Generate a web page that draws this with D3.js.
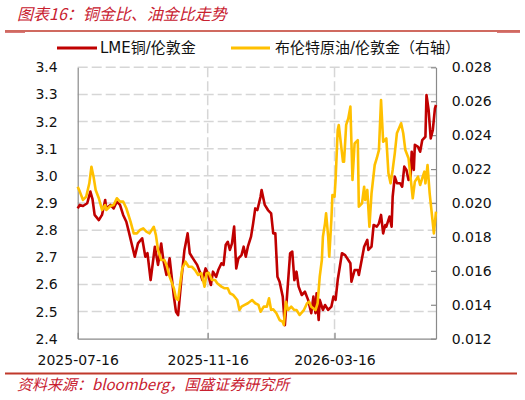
<!DOCTYPE html>
<html><head><meta charset="utf-8">
<script src="https://cdn.jsdelivr.net/npm/d3@7"></script>
<style>
html,body{margin:0;padding:0;background:#fff;}
svg{display:block;}
</style></head>
<body>
<svg id="chart" width="525" height="400"></svg>
<script>
const titleText = "图表16：铜金比、油金比走势";
const sourceText = "资料来源：bloomberg，国盛证券研究所";
const seriesNames = ["LME铜/伦敦金", "布伦特原油/伦敦金（右轴）"];
const dateTicks = ["2025-07-16", "2025-11-16", "2026-03-16"];
const leftTicks = [2.4, 2.5, 2.6, 2.7, 2.8, 2.9, 3.0, 3.1, 3.2, 3.3, 3.4];
const rightTicks = [0.012, 0.014, 0.016, 0.018, 0.020, 0.022, 0.024, 0.026, 0.028];
const xDomain = ["2025-07-16", "2026-06-20"];

const copperDates = ["2025-07-16","2025-07-18","2025-07-21","2025-07-25","2025-07-28","2025-07-30","2025-08-01","2025-08-05","2025-08-08","2025-08-11","2025-08-12","2025-08-16","2025-08-19","2025-08-22","2025-08-25","2025-08-28","2025-08-31","2025-09-02","2025-09-05","2025-09-08","2025-09-11","2025-09-15","2025-09-18","2025-09-20","2025-09-23","2025-09-26","2025-09-27","2025-09-30","2025-10-03","2025-10-05","2025-10-08","2025-10-11","2025-10-15","2025-10-17","2025-10-19","2025-10-22","2025-10-25","2025-10-28","2025-10-30","2025-11-02","2025-11-06","2025-11-09","2025-11-11","2025-11-14","2025-11-16","2025-11-19","2025-11-21","2025-11-24","2025-11-26","2025-11-29","2025-12-01","2025-12-03","2025-12-05","2025-12-07","2025-12-09","2025-12-11","2025-12-13","2025-12-15","2025-12-18","2025-12-20","2025-12-22","2025-12-24","2025-12-27","2025-12-29","2025-12-31","2026-01-02","2026-01-05","2026-01-06","2026-01-09","2026-01-12","2026-01-15","2026-01-17","2026-01-19","2026-01-21","2026-01-23","2026-01-26","2026-01-28","2026-01-30","2026-02-02","2026-02-04","2026-02-06","2026-02-08","2026-02-10","2026-02-13","2026-02-16","2026-02-19","2026-02-22","2026-02-24","2026-02-26","2026-02-27","2026-03-01","2026-03-02","2026-03-05","2026-03-07","2026-03-10","2026-03-13","2026-03-15","2026-03-17","2026-03-19","2026-03-21","2026-03-23","2026-03-26","2026-03-29","2026-03-31","2026-04-01","2026-04-04","2026-04-07","2026-04-08","2026-04-11","2026-04-13","2026-04-16","2026-04-17","2026-04-20","2026-04-22","2026-04-25","2026-04-27","2026-04-29","2026-05-01","2026-05-03","2026-05-04","2026-05-07","2026-05-09","2026-05-10","2026-05-12","2026-05-14","2026-05-17","2026-05-19","2026-05-21","2026-05-23","2026-05-25","2026-05-27","2026-05-28","2026-05-30","2026-05-31","2026-06-03","2026-06-05","2026-06-07","2026-06-10","2026-06-11","2026-06-13","2026-06-15","2026-06-17","2026-06-19","2026-06-20"];
const copperRatio = [2.880,2.893,2.889,2.899,2.942,2.914,2.856,2.837,2.856,2.911,2.880,2.893,2.880,2.905,2.893,2.856,2.831,2.800,2.751,2.702,2.751,2.770,2.702,2.715,2.616,2.708,2.739,2.672,2.751,2.690,2.635,2.696,2.555,2.499,2.487,2.616,2.727,2.788,2.715,2.696,2.672,2.641,2.616,2.659,2.641,2.598,2.647,2.628,2.653,2.678,2.672,2.745,2.757,2.727,2.751,2.813,2.659,2.696,2.708,2.739,2.702,2.739,2.776,2.825,2.880,2.874,2.923,2.948,2.893,2.874,2.862,2.788,2.788,2.628,2.610,2.555,2.450,2.555,2.715,2.721,2.616,2.647,2.592,2.561,2.573,2.543,2.494,2.555,2.494,2.567,2.469,2.543,2.506,2.524,2.506,2.518,2.555,2.543,2.616,2.665,2.715,2.708,2.690,2.678,2.610,2.653,2.653,2.635,2.696,2.739,2.764,2.727,2.739,2.819,2.813,2.825,2.856,2.788,2.819,2.813,2.850,2.813,2.923,2.997,2.973,2.973,2.960,3.034,3.022,2.985,2.997,3.089,3.022,3.114,3.107,3.089,3.132,3.144,3.298,3.243,3.138,3.169,3.249,3.261];

const oilDates = ["2025-07-16","2025-07-18","2025-07-21","2025-07-24","2025-07-27","2025-07-29","2025-07-31","2025-08-02","2025-08-05","2025-08-08","2025-08-11","2025-08-12","2025-08-16","2025-08-19","2025-08-22","2025-08-25","2025-08-28","2025-08-31","2025-09-04","2025-09-07","2025-09-10","2025-09-13","2025-09-16","2025-09-19","2025-09-22","2025-09-26","2025-09-28","2025-09-30","2025-10-03","2025-10-06","2025-10-08","2025-10-11","2025-10-15","2025-10-17","2025-10-19","2025-10-21","2025-10-23","2025-10-26","2025-10-29","2025-11-01","2025-11-04","2025-11-07","2025-11-10","2025-11-13","2025-11-15","2025-11-17","2025-11-20","2025-11-23","2025-11-25","2025-11-29","2025-12-02","2025-12-05","2025-12-07","2025-12-10","2025-12-14","2025-12-16","2025-12-18","2025-12-21","2025-12-24","2025-12-28","2025-12-31","2026-01-03","2026-01-05","2026-01-08","2026-01-11","2026-01-13","2026-01-15","2026-01-17","2026-01-20","2026-01-23","2026-01-26","2026-01-27","2026-01-29","2026-01-31","2026-02-03","2026-02-06","2026-02-08","2026-02-11","2026-02-15","2026-02-18","2026-02-20","2026-02-22","2026-02-26","2026-02-28","2026-03-02","2026-03-04","2026-03-05","2026-03-07","2026-03-08","2026-03-10","2026-03-11","2026-03-13","2026-03-14","2026-03-16","2026-03-17","2026-03-19","2026-03-20","2026-03-22","2026-03-24","2026-03-25","2026-03-27","2026-03-29","2026-03-31","2026-04-02","2026-04-04","2026-04-07","2026-04-08","2026-04-11","2026-04-13","2026-04-14","2026-04-16","2026-04-18","2026-04-20","2026-04-23","2026-04-25","2026-04-27","2026-04-29","2026-05-01","2026-05-04","2026-05-06","2026-05-08","2026-05-10","2026-05-12","2026-05-14","2026-05-18","2026-05-20","2026-05-22","2026-05-25","2026-05-27","2026-05-29","2026-05-31","2026-06-03","2026-06-05","2026-06-07","2026-06-09","2026-06-10","2026-06-12","2026-06-14","2026-06-17","2026-06-18","2026-06-20"];
const oilRatio = [0.02096,0.02067,0.02018,0.02037,0.02116,0.02214,0.02155,0.02077,0.02028,0.01959,0.01988,0.01959,0.01982,0.01988,0.02028,0.02008,0.02008,0.01969,0.01890,0.01821,0.01821,0.01841,0.01851,0.01831,0.01821,0.01860,0.01811,0.01723,0.01664,0.01664,0.01635,0.01566,0.01497,0.01438,0.01428,0.01527,0.01615,0.01654,0.01624,0.01624,0.01605,0.01576,0.01586,0.01507,0.01586,0.01589,0.01546,0.01546,0.01527,0.01507,0.01497,0.01497,0.01468,0.01458,0.01428,0.01369,0.01389,0.01399,0.01409,0.01428,0.01409,0.01399,0.01359,0.01389,0.01389,0.01438,0.01369,0.01373,0.01350,0.01310,0.01300,0.01281,0.01418,0.01369,0.01389,0.01369,0.01369,0.01340,0.01369,0.01409,0.01418,0.01389,0.01369,0.01409,0.01566,0.01664,0.01801,0.01880,0.01939,0.01801,0.01683,0.01900,0.02047,0.02037,0.02136,0.02430,0.02460,0.02352,0.02243,0.02243,0.02460,0.02499,0.02568,0.02136,0.02352,0.02371,0.01978,0.01998,0.02096,0.02018,0.02077,0.01860,0.02057,0.02224,0.02264,0.02312,0.02607,0.02361,0.02381,0.02175,0.02116,0.02195,0.02293,0.02411,0.02470,0.02411,0.02312,0.02264,0.02146,0.02028,0.02126,0.02155,0.02106,0.02146,0.02185,0.02116,0.02224,0.02057,0.01880,0.01821,0.01949];

const RED = "#c00000", GOLD = "#ffc000", TEXTRED = "#c8202f";
const parse = d3.utcParse("%Y-%m-%d");
const svg = d3.select("#chart");
const cjk = "'DejaVu Sans','Noto Sans CJK SC',sans-serif";

const L = 77.7, R = 436, T = 67.3, B = 338.7;
const x = d3.scaleUtc().domain(xDomain.map(parse)).range([L, R]);
const yL = d3.scaleLinear().domain([2.4, 3.4]).range([B, T]);
const yR = d3.scaleLinear().domain([0.012, 0.028]).range([B, T]);

// header
svg.append("text").attr("x", 17).attr("y", 20).text(titleText)
  .attr("fill", TEXTRED).attr("font-size", 16).attr("font-style", "italic")
  .attr("font-family", "'Noto Sans CJK SC',sans-serif");
svg.append("line").attr("x1", 5).attr("x2", 520).attr("y1", 31).attr("y2", 31)
  .attr("stroke", "#c0392b").attr("stroke-width", 1.5);
svg.append("line").attr("x1", 5).attr("x2", 25).attr("y1", 32.5).attr("y2", 32.5)
  .attr("stroke", "#d9797a").attr("stroke-width", 1);
svg.append("line").attr("x1", 497).attr("x2", 520).attr("y1", 32.5).attr("y2", 32.5)
  .attr("stroke", "#d9797a").attr("stroke-width", 1);

// legend
const legend = [
  {name: seriesNames[0], color: RED, x1: 57, x2: 97, tx: 100},
  {name: seriesNames[1], color: GOLD, x1: 231, x2: 270, tx: 275}
];
legend.forEach(l => {
  svg.append("line").attr("x1", l.x1).attr("x2", l.x2).attr("y1", 48).attr("y2", 48)
    .attr("stroke", l.color).attr("stroke-width", 3);
  svg.append("text").attr("x", l.tx).attr("y", 48).attr("dy", "0.36em").text(l.name)
    .attr("font-size", 15).attr("font-family", cjk).attr("fill", "#111");
});

// gridlines
const grid = svg.append("g").attr("stroke", "#d6d6d6").attr("stroke-width", 1.5).attr("stroke-dasharray", "10,4");
leftTicks.filter(v => v > 2.4).forEach(v => {
  grid.append("line").attr("x1", L).attr("x2", R).attr("y1", yL(v)).attr("y2", yL(v));
});
dateTicks.slice(1).forEach(d => {
  grid.append("line").attr("x1", x(parse(d))).attr("x2", x(parse(d))).attr("y1", T).attr("y2", B);
});

// axes
const axisColor = "#8a8a8a";
const gx = svg.append("g").attr("transform", `translate(0,${B})`)
  .call(d3.axisBottom(x).tickValues(dateTicks.map(parse)).tickFormat(d3.utcFormat("%Y-%m-%d"))
    .tickSizeInner(-6).tickSizeOuter(0).tickPadding(16));
const gl = svg.append("g").attr("transform", `translate(${L},0)`)
  .call(d3.axisLeft(yL).tickValues(leftTicks).tickFormat(d3.format(".1f")).tickSize(0).tickPadding(20));
const gr = svg.append("g").attr("transform", `translate(${R},0)`)
  .call(d3.axisRight(yR).tickValues(rightTicks).tickFormat(d3.format(".3f")).tickSizeInner(-5).tickSizeOuter(0).tickPadding(15.7));
[gx, gl, gr].forEach(g => {
  g.selectAll("path.domain").attr("stroke", axisColor).attr("stroke-width", 1.2);
  g.selectAll(".tick line").attr("stroke", axisColor).attr("stroke-width", 1.2);
  g.selectAll("text").attr("font-size", 14).attr("font-family", "'DejaVu Sans',sans-serif").attr("fill", "#111");
});

// series
const copper = copperDates.map((d, i) => ({date: parse(d), v: copperRatio[i]}));
const oil = oilDates.map((d, i) => ({date: parse(d), v: oilRatio[i]}));
svg.append("path").datum(copper)
  .attr("d", d3.line().x(d => x(d.date)).y(d => yL(d.v)))
  .attr("fill", "none").attr("stroke", RED).attr("stroke-width", 2.6).attr("stroke-linejoin", "round");
svg.append("path").datum(oil)
  .attr("d", d3.line().x(d => x(d.date)).y(d => yR(d.v)))
  .attr("fill", "none").attr("stroke", GOLD).attr("stroke-width", 2.6).attr("stroke-linejoin", "round");

// footer
svg.append("line").attr("x1", 5).attr("x2", 517).attr("y1", 373.5).attr("y2", 373.5)
  .attr("stroke", "#c0392b").attr("stroke-width", 2);
svg.append("text").attr("x", 17).attr("y", 390).text(sourceText)
  .attr("fill", TEXTRED).attr("font-size", 15).attr("font-style", "italic")
  .attr("font-family", "'Noto Sans CJK SC',sans-serif");
</script>
</body></html>
